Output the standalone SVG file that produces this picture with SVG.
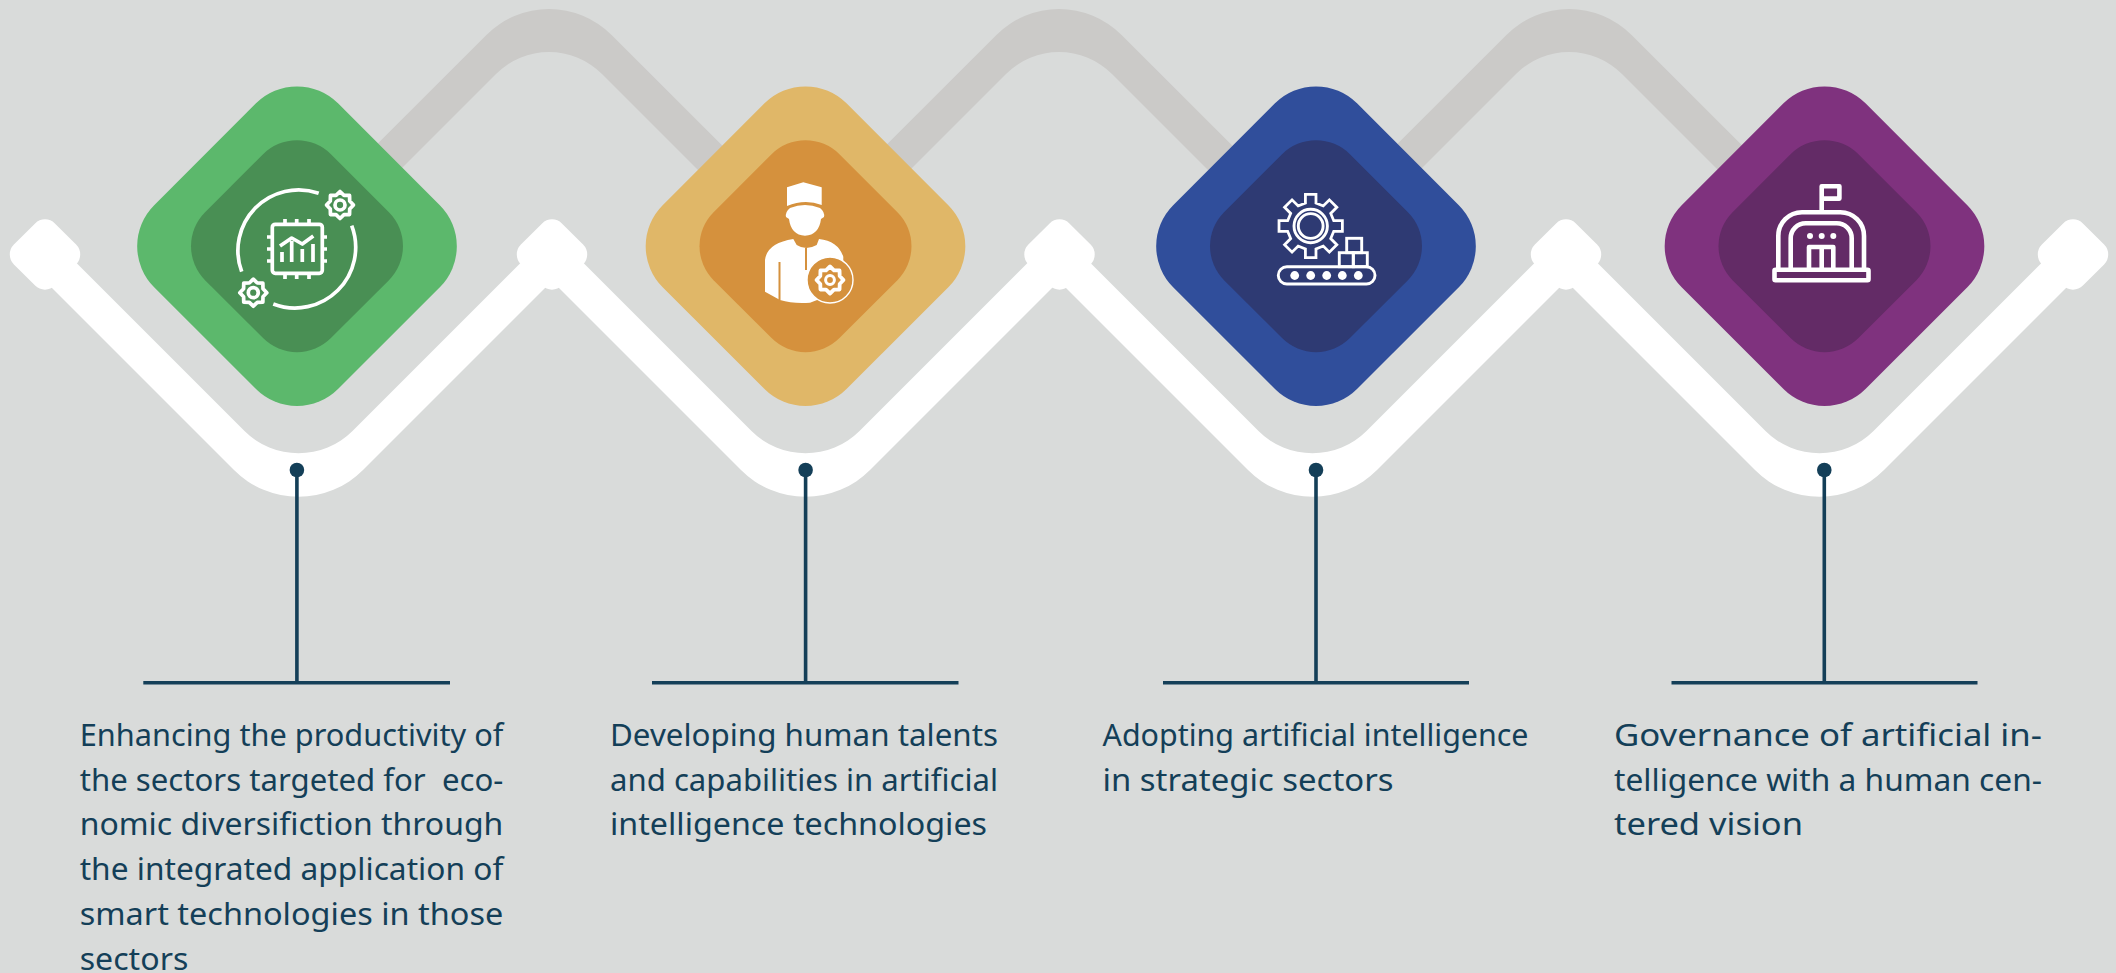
<svg xmlns="http://www.w3.org/2000/svg" width="2116" height="973" viewBox="0 0 2116 973">
<style>
.t{font-family:"Noto Sans","Liberation Sans",sans-serif;font-size:30px;fill:#143f58;white-space:pre}
.ln{stroke:#143f58;stroke-width:3.6;fill:none}
.i{fill:none;stroke:#fff;stroke-width:3.7;stroke-linejoin:round}
.i3{fill:none;stroke:#fff;stroke-width:2.9;stroke-linejoin:miter}
.i4{fill:none;stroke:#fff;stroke-width:4.6;stroke-linejoin:round}
.w{fill:#fff}
</style>
<defs>
<rect id="outer" x="-130" y="-130" width="260" height="260" rx="58" transform="rotate(45)"/>
<rect id="inner" x="-89" y="-89" width="178" height="178" rx="48" transform="rotate(45)"/>
<rect id="cap" x="-29" y="-29" width="58" height="58" rx="14" transform="rotate(45)" fill="#fff"/>
<path id="hump" fill="#cbcac8" d="M-205 177.3L-62.6 34.9A88.6 88.6 0 0 1 62.6 34.9L205 177.3L155 176L53 74A75 75 0 0 0 -53 74L-155 176Z"/>
<path id="gear" d="M13.5 0L9.7 4L9.55 9.55L4 9.7L0 13.5L-4 9.7L-9.55 9.55L-9.7 4L-13.5 0L-9.7 -4L-9.55 -9.55L-4 -9.7L0 -13.5L4 -9.7L9.55 -9.55L9.7 -4Z"/>
</defs>
<rect width="2116" height="973" fill="#d9dbda"/>
<g id="connectors">
<use href="#hump" x="549"/>
<use href="#hump" x="1059"/>
<use href="#hump" x="1569"/>
<path class="w" d="M45 231.5L244.5 431A76.5 76.5 0 0 0 352.5 431L552 231.5L751.5 431A76.5 76.5 0 0 0 859.5 431L1059 231.5L1258.5 431A76.5 76.5 0 0 0 1366.5 431L1566 231.5L1765.5 431A76.5 76.5 0 0 0 1873.5 431L2073 231.5L2073 281L1884 470A91 91 0 0 1 1755 470L1566 281L1377 470A91 91 0 0 1 1248 470L1059 281L870 470A91 91 0 0 1 741 470L552 281L363 470A91 91 0 0 1 234 470L45 281Z"/>
<use href="#cap" x="45" y="254.5"/>
<use href="#cap" x="552" y="254.5"/>
<use href="#cap" x="1059.5" y="254.5"/>
<use href="#cap" x="1566" y="254.5"/>
<use href="#cap" x="2073" y="254.5"/>
<g fill="#143f58">
<circle cx="296.9" cy="470" r="7.3"/><circle cx="805.6" cy="470" r="7.3"/><circle cx="1316" cy="470" r="7.3"/><circle cx="1824.3" cy="470" r="7.3"/>
</g>
<path class="ln" d="M296.9 470V682M143.3 682.7H450M805.6 470V682M652 682.7H958.5M1316 470V682M1163 682.7H1469M1824.3 470V682M1671.5 682.7H1977.5"/>
</g>
<g id="node-1">
<use href="#outer" x="297" y="246.2" fill="#5cb86c"/>
<use href="#inner" x="297" y="246.2" fill="#498f54"/>
<g class="i">
<path d="M318.7 193.3A60.7 60.7 0 0 0 241.7 271.7M351.7 225.7A60.7 60.7 0 0 1 273.3 304" fill="none"/>
<rect x="272.3" y="224.3" width="50" height="49" rx="3"/>
<path d="M285 219V224M296.7 219V224M309 219V224M285 274V279M296.7 274V279M309 274V279M267 237H272M267 249H272M267 261H272M322.5 237H327M322.5 249H327M322.5 261H327"/>
<path d="M280 246L291.7 238L302.3 244L313.3 236M282 262V252M291.7 262V241M302.3 262V249M313 262V244"/>
<use href="#gear" x="340" y="205"/><circle cx="340" cy="205" r="5"/>
<use href="#gear" x="253.3" y="292.7"/><circle cx="253.3" cy="292.7" r="5"/>
</g>
<text class="t" y="746" x="79.7" textLength="423.6" lengthAdjust="spacingAndGlyphs">Enhancing the productivity of</text>
<text class="t" y="790.7" x="79.7" textLength="423.6" lengthAdjust="spacingAndGlyphs">the sectors targeted for  eco-</text>
<text class="t" y="835.4" x="79.7" textLength="423.6" lengthAdjust="spacingAndGlyphs">nomic diversifiction through</text>
<text class="t" y="880" x="79.7" textLength="423.6" lengthAdjust="spacingAndGlyphs">the integrated application of</text>
<text class="t" y="924.8" x="79.7" textLength="423.6" lengthAdjust="spacingAndGlyphs">smart technologies in those</text>
<text class="t" y="969.5" x="79.7" textLength="108.6" lengthAdjust="spacingAndGlyphs">sectors</text>
</g>
<g id="node-2">
<use href="#outer" x="805.5" y="246.2" fill="#e0b768"/>
<use href="#inner" x="805.5" y="246.2" fill="#d5913d"/>
<path class="w" d="M787 187.3L803.3 182.3L821.7 187.3V205Q805 198.3 787 206Z"/>
<path class="w" d="M790 208Q805 202 820 208Q825 212 824 217L821 219Q819 235 805 235.7Q791 235 789 219L786 217Q785 212 790 208Z"/>
<path class="w" d="M793.3 239L796.7 245Q806 251 816.7 245L819 239Q838 241 843.3 256.7L843 290L810 302.7Q793 304 780 300L765 291.7V260Q767 243 793.3 239Z"/>
<path d="M806 248V270M779.5 262V300" stroke="#d5913d" stroke-width="2" fill="none"/>
<circle cx="830" cy="280" r="23" fill="#d5913d" stroke="#fff" stroke-width="1.4"/>
<use href="#gear" x="830" y="280" fill="none" stroke="#fff" stroke-width="3.8" stroke-linejoin="round"/>
<circle cx="830" cy="280" r="4.4" fill="none" stroke="#fff" stroke-width="3"/>
<text class="t" y="746" x="610" textLength="388" lengthAdjust="spacingAndGlyphs">Developing human talents</text>
<text class="t" y="790.7" x="610" textLength="388" lengthAdjust="spacingAndGlyphs">and capabilities in artificial</text>
<text class="t" y="835.4" x="610" textLength="377" lengthAdjust="spacingAndGlyphs">intelligence technologies</text>
</g>
<g id="node-3">
<use href="#outer" x="1316" y="246.2" fill="#304e9b"/>
<use href="#inner" x="1316" y="246.2" fill="#2e3a73"/>
<g class="i3">
<path transform="translate(1310.7 226) scale(.96)" d="M5.5 -33V-24L13.08 -20.86L19.45 -27.22L27.22 -19.45L20.86 -13.08L24 -5.5H33V5.5H24L20.86 13.08L27.22 19.45L19.45 27.22L13.08 20.86L5.5 24V33H-5.5V24L-13.08 20.86L-19.45 27.22L-27.22 19.45L-20.86 13.08L-24 5.5H-33V-5.5H-24L-20.86 -13.08L-27.22 -19.45L-19.45 -27.22L-13.08 -20.86L-5.5 -24V-33Z"/>
<circle cx="1310.7" cy="226" r="16.7"/>
<circle cx="1310.7" cy="226" r="12.4"/>
<rect x="1278.3" y="266.7" width="96.7" height="17.3" rx="8.6"/>
<rect x="1339.3" y="252.7" width="14" height="14"/>
<rect x="1353.3" y="252.7" width="14" height="14"/>
<rect x="1346.7" y="238.3" width="15" height="14.4"/>
</g>
<g class="w">
<circle cx="1294.7" cy="275.5" r="4.4"/><circle cx="1310.7" cy="275.5" r="4.4"/><circle cx="1326.7" cy="275.5" r="4.4"/><circle cx="1342.3" cy="275.5" r="4.4"/><circle cx="1358.3" cy="275.5" r="4.4"/>
</g>
<text class="t" y="746" x="1102.5" textLength="426" lengthAdjust="spacingAndGlyphs">Adopting artificial intelligence</text>
<text class="t" y="790.7" x="1102.5" textLength="291" lengthAdjust="spacingAndGlyphs">in strategic sectors</text>
</g>
<g id="node-4">
<use href="#outer" x="1824.5" y="246.2" fill="#7f327e"/>
<use href="#inner" x="1824.5" y="246.2" fill="#632b66"/>
<g class="i4">
<rect x="1774.5" y="269.8" width="94" height="10.5" rx="1"/>
<path d="M1778.3 268V236A23.7 23.7 0 0 1 1802 212.3H1840.3A23.7 23.7 0 0 1 1864 236V268"/>
<path d="M1790.7 268V238.3A15 15 0 0 1 1805.7 223.3H1836.7A15 15 0 0 1 1851.7 238.3V268"/>
<path d="M1809 268V247H1833.3V268M1821.7 247V268M1821.7 212V186.3H1839.4V198.6H1821.7"/>
</g>
<g class="w"><circle cx="1810" cy="236" r="3"/><circle cx="1821.7" cy="236" r="3"/><circle cx="1833.3" cy="236" r="3"/></g>
<text class="t" y="746" x="1614" textLength="428" lengthAdjust="spacingAndGlyphs">Governance of artificial in-</text>
<text class="t" y="790.7" x="1614" textLength="428" lengthAdjust="spacingAndGlyphs">telligence with a human cen-</text>
<text class="t" y="835.4" x="1614" textLength="189" lengthAdjust="spacingAndGlyphs">tered vision</text>
</g>
</svg>
